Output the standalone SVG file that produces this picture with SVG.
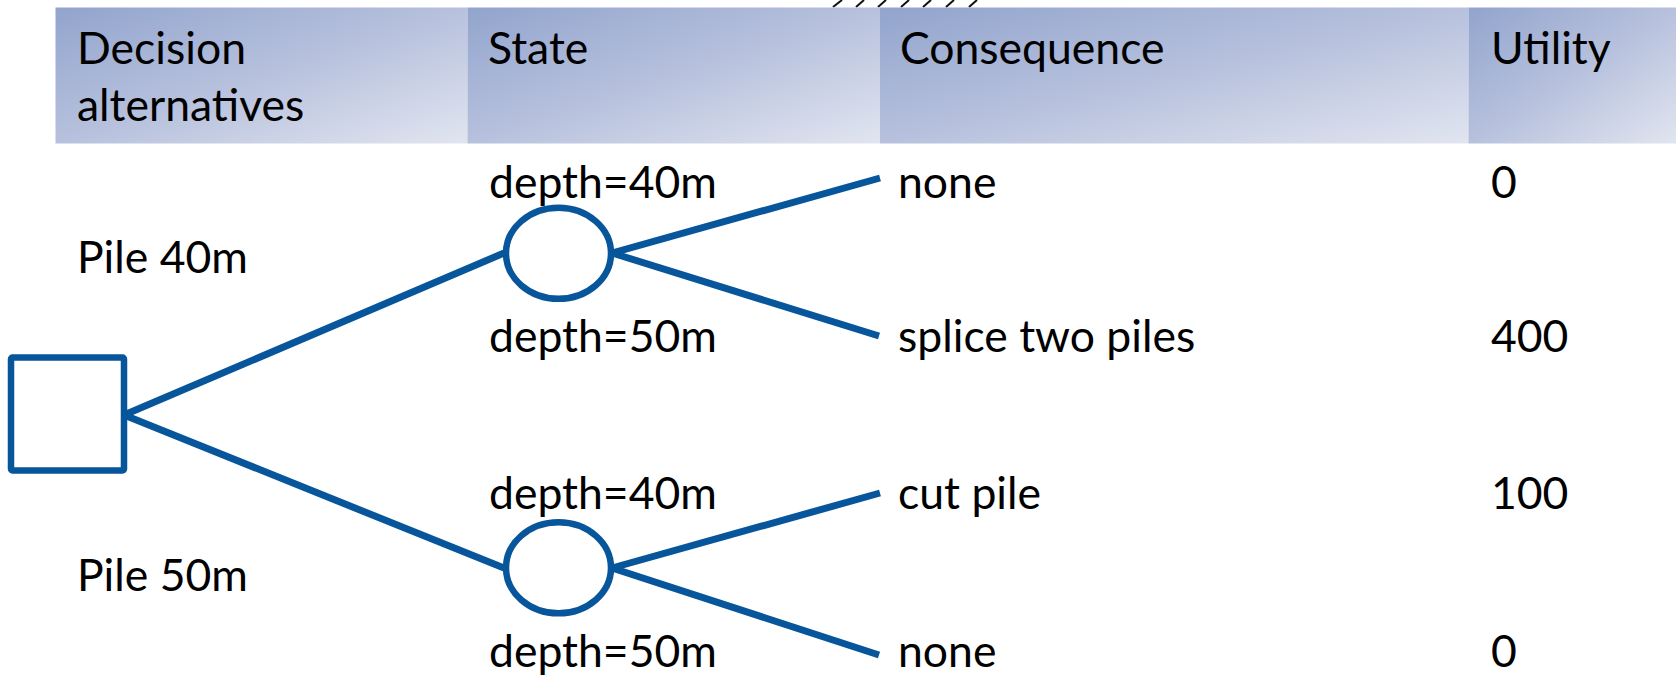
<svg xmlns="http://www.w3.org/2000/svg" width="1676" height="675" viewBox="0 0 1676 675">
  <defs>
    <linearGradient id="hdr" x1="0" y1="0" x2="1" y2="1">
      <stop offset="0" stop-color="#92A4CD"/>
      <stop offset="0.5" stop-color="#B7C1DD"/>
      <stop offset="1" stop-color="#E1E5F0"/>
    </linearGradient>
  </defs>
  <style>
    text { font-family: Lato, "Open Sans", sans-serif; font-size: 44.5px; fill: #000; }
    .hcell { fill: url(#hdr); }
    .edge { stroke: #07559A; stroke-width: 7; fill: none; stroke-linecap: butt; }
    .node { stroke: #07559A; stroke-width: 6.5; fill: #fff; }
    .hatch { stroke: #111; stroke-width: 2; }
  </style>
  <rect width="1676" height="675" fill="#fff"/>

  <!-- hatch marks along the top edge -->
  <g id="hatch" class="hatch">
    <line x1="833" y1="7" x2="842" y2="0"/>
    <line x1="856" y1="7" x2="864" y2="0"/>
    <line x1="878" y1="7" x2="886" y2="0"/>
    <line x1="901" y1="7" x2="909" y2="0"/>
    <line x1="923" y1="7" x2="931" y2="0"/>
    <line x1="946" y1="7" x2="954" y2="0"/>
    <line x1="969" y1="7" x2="977" y2="0"/>
  </g>

  <!-- column header band -->
  <g id="header">
    <rect class="hcell" x="55.5" y="7.5" width="412" height="136"/>
    <rect class="hcell" x="467.5" y="7.5" width="412.5" height="136"/>
    <rect class="hcell" x="880" y="7.5" width="588.5" height="136"/>
    <rect class="hcell" x="1468.5" y="7.5" width="207.5" height="136"/>
    <text x="77" y="64">Decision</text>
    <text x="77" y="121">alternatives</text>
    <text x="488" y="64">State</text>
    <text x="900" y="64">Consequence</text>
    <text x="1491" y="64">Utility</text>
  </g>

  <!-- branches -->
  <g id="connectors" class="edge">
    <line x1="124" y1="415" x2="504" y2="253"/>
    <line x1="124" y1="415" x2="504" y2="568"/>
    <line x1="612" y1="253" x2="880" y2="178"/>
    <line x1="612" y1="253" x2="879" y2="336"/>
    <line x1="612" y1="568" x2="880" y2="493"/>
    <line x1="612" y1="568" x2="879" y2="655"/>
  </g>

  <!-- decision node -->
  <g id="decision">
    <rect class="node" x="11" y="357.5" width="113" height="113" rx="1.5"/>
  </g>

  <!-- chance nodes -->
  <g id="chance-40">
    <ellipse class="node" cx="558.5" cy="253.3" rx="52.5" ry="45.5"/>
  </g>
  <g id="chance-50">
    <ellipse class="node" cx="558.5" cy="567.8" rx="52.5" ry="45.5"/>
  </g>

  <!-- alternatives -->
  <g id="alt-labels">
    <text x="77" y="273">Pile 40m</text>
    <text x="77" y="591">Pile 50m</text>
  </g>

  <!-- states -->
  <g id="state-labels">
    <text x="489" y="198">depth=40m</text>
    <text x="489" y="352">depth=50m</text>
    <text x="489" y="509">depth=40m</text>
    <text x="489" y="667">depth=50m</text>
  </g>

  <!-- consequences -->
  <g id="consequence-labels">
    <text x="898" y="198">none</text>
    <text x="898" y="352">splice two piles</text>
    <text x="898" y="509">cut pile</text>
    <text x="898" y="667">none</text>
  </g>

  <!-- utilities -->
  <g id="utility-labels">
    <text x="1491" y="198">0</text>
    <text x="1491" y="352">400</text>
    <text x="1491" y="509">100</text>
    <text x="1491" y="667">0</text>
  </g>
</svg>
